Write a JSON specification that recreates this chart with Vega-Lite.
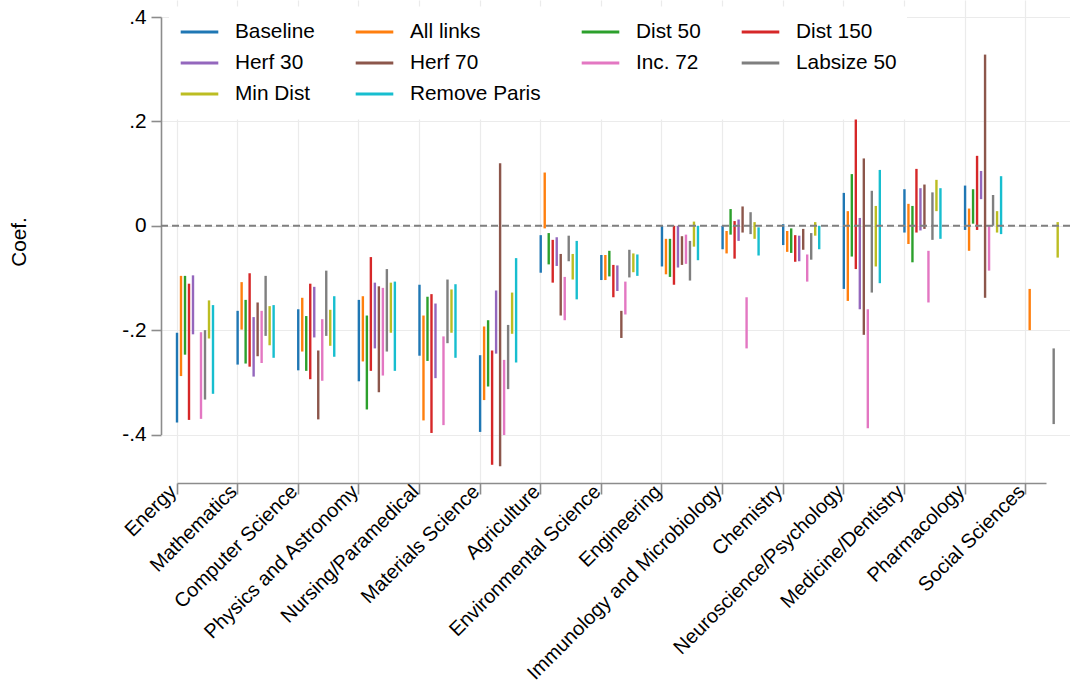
{
  "$schema": "https://vega.github.io/schema/vega-lite/v6.json",
  "width": 909,
  "height": 483,
  "autosize": {"type": "none"},
  "padding": {"left": 161, "top": 0, "right": 0, "bottom": 204},
  "background": "white",
  "config": {
    "font": "Liberation Sans",
    "view": {"stroke": null},
    "axis": {
      "labelFont": "Liberation Sans",
      "titleFont": "Liberation Sans",
      "labelColor": "#000000",
      "titleColor": "#000000",
      "gridColor": "#ebebeb",
      "gridWidth": 1.2,
      "domainColor": "#8c8c8c",
      "domainWidth": 1.6,
      "tickColor": "#8c8c8c",
      "tickWidth": 1.6
    }
  },
  "layer": [
    {
      "data": {
        "values": [
          {"cat": "Energy", "spec": "Baseline", "lo": -0.377, "hi": -0.205},
          {"cat": "Energy", "spec": "All links", "lo": -0.288, "hi": -0.096},
          {"cat": "Energy", "spec": "Dist 50", "lo": -0.247, "hi": -0.096},
          {"cat": "Energy", "spec": "Dist 150", "lo": -0.372, "hi": -0.111},
          {"cat": "Energy", "spec": "Herf 30", "lo": -0.208, "hi": -0.095},
          {"cat": "Energy", "spec": "Inc. 72", "lo": -0.370, "hi": -0.204},
          {"cat": "Energy", "spec": "Labsize 50", "lo": -0.333, "hi": -0.200},
          {"cat": "Energy", "spec": "Min Dist", "lo": -0.216, "hi": -0.143},
          {"cat": "Energy", "spec": "Remove Paris", "lo": -0.322, "hi": -0.152},

          {"cat": "Mathematics", "spec": "Baseline", "lo": -0.266, "hi": -0.163},
          {"cat": "Mathematics", "spec": "All links", "lo": -0.199, "hi": -0.108},
          {"cat": "Mathematics", "spec": "Dist 50", "lo": -0.264, "hi": -0.142},
          {"cat": "Mathematics", "spec": "Dist 150", "lo": -0.270, "hi": -0.091},
          {"cat": "Mathematics", "spec": "Herf 30", "lo": -0.289, "hi": -0.175},
          {"cat": "Mathematics", "spec": "Herf 70", "lo": -0.250, "hi": -0.147},
          {"cat": "Mathematics", "spec": "Inc. 72", "lo": -0.263, "hi": -0.163},
          {"cat": "Mathematics", "spec": "Labsize 50", "lo": -0.211, "hi": -0.096},
          {"cat": "Mathematics", "spec": "Min Dist", "lo": -0.229, "hi": -0.154},
          {"cat": "Mathematics", "spec": "Remove Paris", "lo": -0.253, "hi": -0.152},

          {"cat": "Computer Science", "spec": "Baseline", "lo": -0.277, "hi": -0.160},
          {"cat": "Computer Science", "spec": "All links", "lo": -0.241, "hi": -0.138},
          {"cat": "Computer Science", "spec": "Dist 50", "lo": -0.278, "hi": -0.173},
          {"cat": "Computer Science", "spec": "Dist 150", "lo": -0.294, "hi": -0.111},
          {"cat": "Computer Science", "spec": "Herf 30", "lo": -0.214, "hi": -0.117},
          {"cat": "Computer Science", "spec": "Herf 70", "lo": -0.371, "hi": -0.239},
          {"cat": "Computer Science", "spec": "Inc. 72", "lo": -0.297, "hi": -0.179},
          {"cat": "Computer Science", "spec": "Labsize 50", "lo": -0.211, "hi": -0.086},
          {"cat": "Computer Science", "spec": "Min Dist", "lo": -0.230, "hi": -0.161},
          {"cat": "Computer Science", "spec": "Remove Paris", "lo": -0.251, "hi": -0.135},

          {"cat": "Physics and Astronomy", "spec": "Baseline", "lo": -0.298, "hi": -0.142},
          {"cat": "Physics and Astronomy", "spec": "All links", "lo": -0.260, "hi": -0.135},
          {"cat": "Physics and Astronomy", "spec": "Dist 50", "lo": -0.352, "hi": -0.172},
          {"cat": "Physics and Astronomy", "spec": "Dist 150", "lo": -0.278, "hi": -0.060},
          {"cat": "Physics and Astronomy", "spec": "Herf 30", "lo": -0.235, "hi": -0.109},
          {"cat": "Physics and Astronomy", "spec": "Herf 70", "lo": -0.319, "hi": -0.116},
          {"cat": "Physics and Astronomy", "spec": "Inc. 72", "lo": -0.287, "hi": -0.119},
          {"cat": "Physics and Astronomy", "spec": "Labsize 50", "lo": -0.241, "hi": -0.083},
          {"cat": "Physics and Astronomy", "spec": "Min Dist", "lo": -0.205, "hi": -0.109},
          {"cat": "Physics and Astronomy", "spec": "Remove Paris", "lo": -0.278, "hi": -0.107},

          {"cat": "Nursing/Paramedical", "spec": "Baseline", "lo": -0.249, "hi": -0.113},
          {"cat": "Nursing/Paramedical", "spec": "All links", "lo": -0.373, "hi": -0.172},
          {"cat": "Nursing/Paramedical", "spec": "Dist 50", "lo": -0.259, "hi": -0.136},
          {"cat": "Nursing/Paramedical", "spec": "Dist 150", "lo": -0.397, "hi": -0.131},
          {"cat": "Nursing/Paramedical", "spec": "Herf 30", "lo": -0.292, "hi": -0.149},
          {"cat": "Nursing/Paramedical", "spec": "Inc. 72", "lo": -0.382, "hi": -0.212},
          {"cat": "Nursing/Paramedical", "spec": "Labsize 50", "lo": -0.225, "hi": -0.103},
          {"cat": "Nursing/Paramedical", "spec": "Min Dist", "lo": -0.205, "hi": -0.122},
          {"cat": "Nursing/Paramedical", "spec": "Remove Paris", "lo": -0.253, "hi": -0.112},

          {"cat": "Materials Science", "spec": "Baseline", "lo": -0.395, "hi": -0.248},
          {"cat": "Materials Science", "spec": "All links", "lo": -0.334, "hi": -0.193},
          {"cat": "Materials Science", "spec": "Dist 50", "lo": -0.308, "hi": -0.181},
          {"cat": "Materials Science", "spec": "Dist 150", "lo": -0.458, "hi": -0.239},
          {"cat": "Materials Science", "spec": "Herf 30", "lo": -0.245, "hi": -0.124},
          {"cat": "Materials Science", "spec": "Herf 70", "lo": -0.461, "hi": 0.120},
          {"cat": "Materials Science", "spec": "Inc. 72", "lo": -0.401, "hi": -0.257},
          {"cat": "Materials Science", "spec": "Labsize 50", "lo": -0.313, "hi": -0.190},
          {"cat": "Materials Science", "spec": "Min Dist", "lo": -0.207, "hi": -0.128},
          {"cat": "Materials Science", "spec": "Remove Paris", "lo": -0.262, "hi": -0.062},

          {"cat": "Agriculture", "spec": "Baseline", "lo": -0.090, "hi": -0.018},
          {"cat": "Agriculture", "spec": "All links", "lo": -0.005, "hi": 0.102},
          {"cat": "Agriculture", "spec": "Dist 50", "lo": -0.074, "hi": -0.014},
          {"cat": "Agriculture", "spec": "Dist 150", "lo": -0.109, "hi": -0.027},
          {"cat": "Agriculture", "spec": "Herf 30", "lo": -0.077, "hi": -0.022},
          {"cat": "Agriculture", "spec": "Herf 70", "lo": -0.172, "hi": -0.054},
          {"cat": "Agriculture", "spec": "Inc. 72", "lo": -0.181, "hi": -0.098},
          {"cat": "Agriculture", "spec": "Labsize 50", "lo": -0.068, "hi": -0.019},
          {"cat": "Agriculture", "spec": "Min Dist", "lo": -0.103, "hi": -0.054},
          {"cat": "Agriculture", "spec": "Remove Paris", "lo": -0.141, "hi": -0.029},

          {"cat": "Environmental Science", "spec": "Baseline", "lo": -0.104, "hi": -0.056},
          {"cat": "Environmental Science", "spec": "All links", "lo": -0.104, "hi": -0.056},
          {"cat": "Environmental Science", "spec": "Dist 50", "lo": -0.097, "hi": -0.048},
          {"cat": "Environmental Science", "spec": "Dist 150", "lo": -0.137, "hi": -0.075},
          {"cat": "Environmental Science", "spec": "Herf 30", "lo": -0.125, "hi": -0.076},
          {"cat": "Environmental Science", "spec": "Herf 70", "lo": -0.215, "hi": -0.163},
          {"cat": "Environmental Science", "spec": "Inc. 72", "lo": -0.170, "hi": -0.107},
          {"cat": "Environmental Science", "spec": "Labsize 50", "lo": -0.099, "hi": -0.046},
          {"cat": "Environmental Science", "spec": "Min Dist", "lo": -0.089, "hi": -0.053},
          {"cat": "Environmental Science", "spec": "Remove Paris", "lo": -0.096, "hi": -0.055},

          {"cat": "Engineering", "spec": "Baseline", "lo": -0.078, "hi": 0.000},
          {"cat": "Engineering", "spec": "All links", "lo": -0.093, "hi": -0.025},
          {"cat": "Engineering", "spec": "Dist 50", "lo": -0.098, "hi": -0.025},
          {"cat": "Engineering", "spec": "Dist 150", "lo": -0.113, "hi": 0.000},
          {"cat": "Engineering", "spec": "Herf 30", "lo": -0.080, "hi": 0.000},
          {"cat": "Engineering", "spec": "Herf 70", "lo": -0.075, "hi": -0.020},
          {"cat": "Engineering", "spec": "Inc. 72", "lo": -0.073, "hi": -0.017},
          {"cat": "Engineering", "spec": "Labsize 50", "lo": -0.105, "hi": -0.029},
          {"cat": "Engineering", "spec": "Min Dist", "lo": -0.040, "hi": 0.008},
          {"cat": "Engineering", "spec": "Remove Paris", "lo": -0.066, "hi": 0.000},

          {"cat": "Immunology and Microbiology", "spec": "Baseline", "lo": -0.045, "hi": 0.000},
          {"cat": "Immunology and Microbiology", "spec": "All links", "lo": -0.053, "hi": -0.010},
          {"cat": "Immunology and Microbiology", "spec": "Dist 50", "lo": -0.017, "hi": 0.032},
          {"cat": "Immunology and Microbiology", "spec": "Dist 150", "lo": -0.063, "hi": 0.009},
          {"cat": "Immunology and Microbiology", "spec": "Herf 30", "lo": -0.029, "hi": 0.012},
          {"cat": "Immunology and Microbiology", "spec": "Herf 70", "lo": -0.013, "hi": 0.037},
          {"cat": "Immunology and Microbiology", "spec": "Inc. 72", "lo": -0.235, "hi": -0.137},
          {"cat": "Immunology and Microbiology", "spec": "Labsize 50", "lo": -0.016, "hi": 0.026},
          {"cat": "Immunology and Microbiology", "spec": "Min Dist", "lo": -0.025, "hi": 0.007},
          {"cat": "Immunology and Microbiology", "spec": "Remove Paris", "lo": -0.057, "hi": -0.003},

          {"cat": "Chemistry", "spec": "Baseline", "lo": -0.037, "hi": 0.003},
          {"cat": "Chemistry", "spec": "All links", "lo": -0.050, "hi": -0.010},
          {"cat": "Chemistry", "spec": "Dist 50", "lo": -0.052, "hi": -0.005},
          {"cat": "Chemistry", "spec": "Dist 150", "lo": -0.069, "hi": -0.018},
          {"cat": "Chemistry", "spec": "Herf 30", "lo": -0.068, "hi": -0.019},
          {"cat": "Chemistry", "spec": "Herf 70", "lo": -0.046, "hi": -0.006},
          {"cat": "Chemistry", "spec": "Inc. 72", "lo": -0.107, "hi": -0.055},
          {"cat": "Chemistry", "spec": "Labsize 50", "lo": -0.065, "hi": -0.014},
          {"cat": "Chemistry", "spec": "Min Dist", "lo": -0.019, "hi": 0.007},
          {"cat": "Chemistry", "spec": "Remove Paris", "lo": -0.045, "hi": 0.000},

          {"cat": "Neuroscience/Psychology", "spec": "Baseline", "lo": -0.121, "hi": 0.063},
          {"cat": "Neuroscience/Psychology", "spec": "All links", "lo": -0.144, "hi": 0.028},
          {"cat": "Neuroscience/Psychology", "spec": "Dist 50", "lo": -0.059, "hi": 0.099},
          {"cat": "Neuroscience/Psychology", "spec": "Dist 150", "lo": -0.083, "hi": 0.208},
          {"cat": "Neuroscience/Psychology", "spec": "Herf 30", "lo": -0.160, "hi": 0.015},
          {"cat": "Neuroscience/Psychology", "spec": "Herf 70", "lo": -0.209, "hi": 0.129},
          {"cat": "Neuroscience/Psychology", "spec": "Inc. 72", "lo": -0.388, "hi": -0.160},
          {"cat": "Neuroscience/Psychology", "spec": "Labsize 50", "lo": -0.128, "hi": 0.067},
          {"cat": "Neuroscience/Psychology", "spec": "Min Dist", "lo": -0.078, "hi": 0.038},
          {"cat": "Neuroscience/Psychology", "spec": "Remove Paris", "lo": -0.110, "hi": 0.107},

          {"cat": "Medicine/Dentistry", "spec": "Baseline", "lo": -0.013, "hi": 0.070},
          {"cat": "Medicine/Dentistry", "spec": "All links", "lo": -0.035, "hi": 0.042},
          {"cat": "Medicine/Dentistry", "spec": "Dist 50", "lo": -0.070, "hi": 0.038},
          {"cat": "Medicine/Dentistry", "spec": "Dist 150", "lo": -0.013, "hi": 0.109},
          {"cat": "Medicine/Dentistry", "spec": "Herf 30", "lo": -0.009, "hi": 0.072},
          {"cat": "Medicine/Dentistry", "spec": "Herf 70", "lo": -0.006, "hi": 0.079},
          {"cat": "Medicine/Dentistry", "spec": "Inc. 72", "lo": -0.147, "hi": -0.048},
          {"cat": "Medicine/Dentistry", "spec": "Labsize 50", "lo": -0.027, "hi": 0.064},
          {"cat": "Medicine/Dentistry", "spec": "Min Dist", "lo": 0.028, "hi": 0.088},
          {"cat": "Medicine/Dentistry", "spec": "Remove Paris", "lo": -0.025, "hi": 0.072},

          {"cat": "Pharmacology", "spec": "Baseline", "lo": -0.008, "hi": 0.077},
          {"cat": "Pharmacology", "spec": "All links", "lo": -0.048, "hi": 0.033},
          {"cat": "Pharmacology", "spec": "Dist 50", "lo": 0.004, "hi": 0.070},
          {"cat": "Pharmacology", "spec": "Dist 150", "lo": -0.008, "hi": 0.134},
          {"cat": "Pharmacology", "spec": "Herf 30", "lo": 0.051, "hi": 0.105},
          {"cat": "Pharmacology", "spec": "Herf 70", "lo": -0.138, "hi": 0.328},
          {"cat": "Pharmacology", "spec": "Inc. 72", "lo": -0.086, "hi": 0.000},
          {"cat": "Pharmacology", "spec": "Labsize 50", "lo": 0.000, "hi": 0.059},
          {"cat": "Pharmacology", "spec": "Min Dist", "lo": -0.013, "hi": 0.028},
          {"cat": "Pharmacology", "spec": "Remove Paris", "lo": -0.016, "hi": 0.095},

          {"cat": "Social Sciences", "spec": "All links", "lo": -0.200, "hi": -0.121},
          {"cat": "Social Sciences", "spec": "Labsize 50", "lo": -0.380, "hi": -0.235},
          {"cat": "Social Sciences", "spec": "Min Dist", "lo": -0.061, "hi": 0.007}
        ]
      },
      "mark": {"type": "rule", "strokeWidth": 2.4, "clip": false},
      "encoding": {
        "x": {
          "field": "cat",
          "type": "nominal",
          "sort": null,
          "scale": {
            "domain": ["Energy", "Mathematics", "Computer Science", "Physics and Astronomy", "Nursing/Paramedical", "Materials Science", "Agriculture", "Environmental Science", "Engineering", "Immunology and Microbiology", "Chemistry", "Neuroscience/Psychology", "Medicine/Dentistry", "Pharmacology", "Social Sciences"],
            "paddingInner": 0.269,
            "paddingOuter": 0.132,
            "align": 1
          },
          "axis": {
            "title": null,
            "bandPosition": 0,
            "grid": true,
            "labelAngle": -45,
            "labelAlign": "right",
            "labelBaseline": "top",
            "labelFontSize": 20,
            "labelPadding": -13,
            "labelOffset": -33,
            "labelLimit": 0,
            "labelOverlap": false,
            "labelBound": false,
            "tickSize": 11,
            "domainDash": [0, 16, 869, 3000]
          }
        },
        "xOffset": {
          "field": "spec",
          "type": "nominal",
          "sort": null,
          "scale": {
            "domain": ["Baseline", "All links", "Dist 50", "Dist 150", "Herf 30", "Herf 70", "Inc. 72", "Labsize 50", "Min Dist", "Remove Paris"],
            "range": [-2, 38],
            "paddingInner": 0,
            "paddingOuter": 0
          }
        },
        "y": {
          "field": "lo",
          "type": "quantitative",
          "scale": {"domain": [-0.4929, 0.4326], "nice": false, "zero": false},
          "axis": {
            "title": "Coef.",
            "values": [-0.4, -0.2, 0, 0.2, 0.4],
            "labelExpr": "datum.value == 0 ? '0' : (datum.value < 0 ? '-' : '') + replace(format(abs(datum.value), '.1f'), '0.', '.')",
            "grid": true,
            "tickSize": 10,
            "labelFontSize": 20.8,
            "labelPadding": 5,
            "titleFontSize": 20.8,
            "titleFontWeight": "normal",
            "titleX": -142,
            "titleY": 241.5,
            "titleAngle": 270,
            "titleAlign": "center",
            "titleBaseline": "middle",
            "domainDash": [0, 48.5, 417.5, 1000]
          }
        },
        "y2": {"field": "hi"},
        "color": {
          "field": "spec",
          "type": "nominal",
          "scale": {
            "domain": ["Baseline", "All links", "Dist 50", "Dist 150", "Herf 30", "Herf 70", "Inc. 72", "Labsize 50", "Min Dist", "Remove Paris"],
            "range": ["#1f77b4", "#ff7f0e", "#2ca02c", "#d62728", "#9467bd", "#8c564b", "#e377c2", "#7f7f7f", "#bcbd22", "#17becf"]
          },
          "legend": {
            "title": null,
            "orient": "none",
            "direction": "horizontal",
            "legendX": 8,
            "legendY": 6.5,
            "columns": 4,
            "symbolType": "stroke",
            "symbolSize": 1414,
            "symbolStrokeWidth": 3,
            "labelFontSize": 20.8,
            "labelFont": "Liberation Sans",
            "labelColor": "#000000",
            "labelOffset": 15,
            "labelLimit": 400,
            "columnPadding": 39,
            "rowPadding": 0,
            "clipHeight": 31,
            "padding": 10,
            "fillColor": "white",
            "strokeColor": null
          }
        }
      }
    },
    {
      "data": {"values": [{}]},
      "mark": {"type": "rule", "strokeDash": [7, 4], "color": "#808080", "strokeWidth": 2},
      "encoding": {"y": {"datum": 0}}
    }
  ]
}
